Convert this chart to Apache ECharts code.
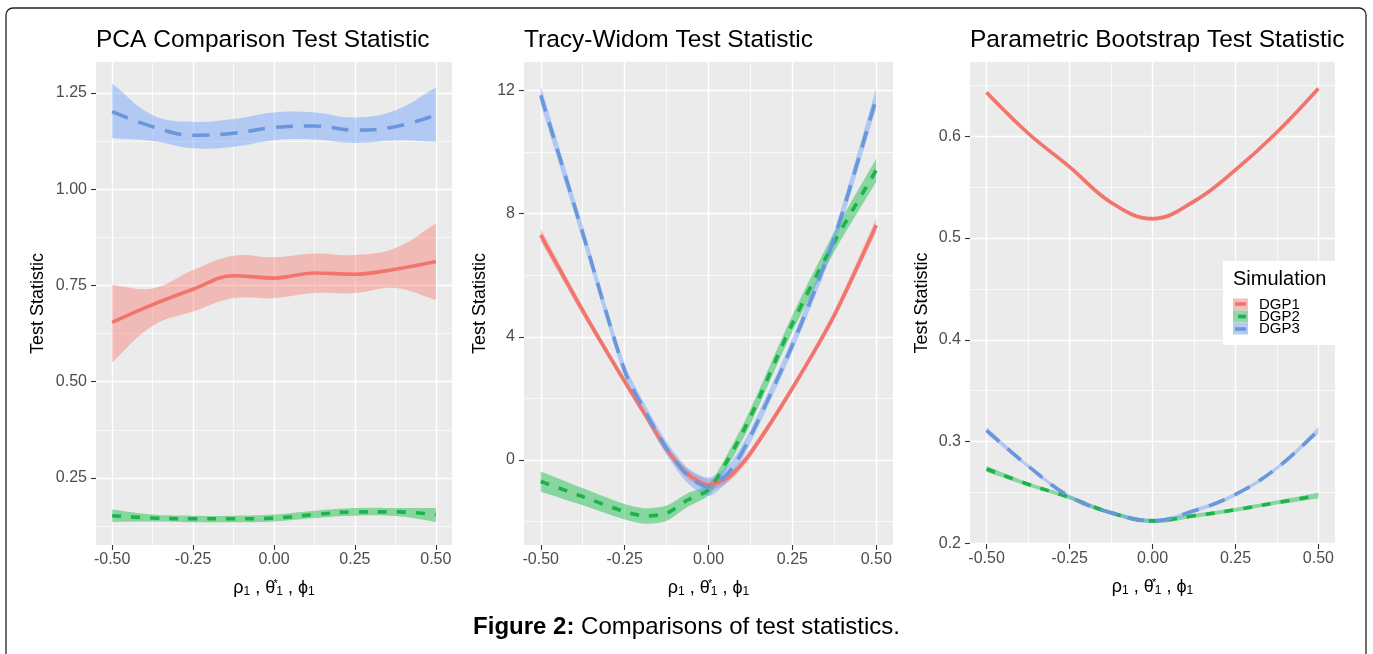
<!DOCTYPE html>
<html>
<head>
<meta charset="utf-8">
<style>
html, body { margin: 0; padding: 0; background: #fff; }
#main { width: 1373px; height: 654px; }
</style>
<script src="https://cdn.jsdelivr.net/npm/echarts@6/dist/echarts.min.js"></script>
</head>
<body>
<div id="main"></div>
<script>
// x grid of the smoothed curves
var xs = [-0.5, -0.375, -0.25, -0.125, 0, 0.125, 0.25, 0.375, 0.5];
var xsTw = [-0.5, -0.375, -0.25, -0.1875, -0.125, -0.0625, 0, 0.0625, 0.125, 0.25, 0.375, 0.5];

// PCA comparison test statistic
var pcaD1   = [0.654, 0.700, 0.740, 0.775, 0.769, 0.782, 0.779, 0.792, 0.812];
var pcaD1Lo = [0.550, 0.645, 0.682, 0.717, 0.717, 0.730, 0.730, 0.743, 0.712];
var pcaD1Hi = [0.751, 0.742, 0.790, 0.827, 0.823, 0.833, 0.829, 0.847, 0.911];
var pcaD2   = [0.152, 0.146, 0.144, 0.144, 0.146, 0.155, 0.162, 0.162, 0.155];
var pcaD2Lo = [0.136, 0.137, 0.135, 0.135, 0.137, 0.146, 0.152, 0.151, 0.136];
var pcaD2Hi = [0.168, 0.155, 0.152, 0.152, 0.155, 0.165, 0.172, 0.172, 0.172];
var pcaD3   = [1.201, 1.162, 1.140, 1.145, 1.160, 1.164, 1.153, 1.162, 1.192];
var pcaD3Lo = [1.132, 1.125, 1.106, 1.110, 1.127, 1.129, 1.120, 1.127, 1.123];
var pcaD3Hi = [1.274, 1.192, 1.175, 1.182, 1.199, 1.199, 1.186, 1.205, 1.264];

// Tracy-Widom test statistic
var twD1   = [7.30, 4.85, 2.55, 1.45, 0.35, -0.45, -0.81, -0.54, 0.22, 2.33, 4.70, 7.62];
var twD1Lo = [7.10, 4.70, 2.43, 1.33, 0.22, -0.60, -0.99, -0.69, 0.09, 2.21, 4.55, 7.40];
var twD1Hi = [7.50, 5.00, 2.67, 1.57, 0.48, -0.30, -0.63, -0.39, 0.35, 2.45, 4.85, 7.84];
var twD2   = [-0.70, -1.19, -1.68, -1.82, -1.73, -1.30, -0.97, 0.10, 1.40, 4.43, 7.08, 9.41];
var twD2Lo = [-1.03, -1.47, -1.93, -2.07, -1.98, -1.52, -1.15, -0.12, 1.15, 4.16, 6.76, 9.03];
var twD2Hi = [-0.37, -0.91, -1.43, -1.57, -1.48, -1.08, -0.79, 0.32, 1.65, 4.70, 7.40, 9.79];
var twD3   = [11.84, 7.37, 2.90, 1.55, 0.38, -0.50, -0.87, -0.38, 0.76, 3.73, 7.20, 11.75];
var twD3Lo = [11.54, 7.12, 2.68, 1.33, 0.16, -0.75, -1.17, -0.63, 0.54, 3.51, 6.95, 11.43];
var twD3Hi = [12.14, 7.62, 3.12, 1.77, 0.60, -0.25, -0.57, -0.13, 0.98, 3.95, 7.45, 12.07];

// Parametric bootstrap test statistic
var pbD1   = [0.643, 0.603, 0.570, 0.535, 0.519, 0.536, 0.567, 0.604, 0.647];
var pbD1Lo = [0.641, 0.601, 0.568, 0.533, 0.517, 0.534, 0.565, 0.602, 0.645];
var pbD1Hi = [0.645, 0.605, 0.572, 0.537, 0.521, 0.538, 0.569, 0.606, 0.649];
var pbD2   = [0.273, 0.258, 0.245, 0.230, 0.222, 0.227, 0.233, 0.240, 0.247];
var pbD2Lo = [0.270, 0.256, 0.243, 0.228, 0.220, 0.225, 0.231, 0.238, 0.244];
var pbD2Hi = [0.276, 0.260, 0.247, 0.232, 0.224, 0.229, 0.235, 0.242, 0.250];
var pbD3   = [0.311, 0.276, 0.246, 0.230, 0.222, 0.232, 0.248, 0.274, 0.311];
var pbD3Lo = [0.308, 0.274, 0.244, 0.228, 0.220, 0.230, 0.246, 0.272, 0.308];
var pbD3Hi = [0.314, 0.278, 0.248, 0.232, 0.224, 0.234, 0.250, 0.276, 0.314];

// ticks
var xMajor = [-0.5, -0.25, 0, 0.25, 0.5];
var xMinor = [-0.375, -0.125, 0.125, 0.375];
var pcaMajor = [0.25, 0.5, 0.75, 1.0, 1.25];
var pcaMinor = [0.125, 0.375, 0.625, 0.875, 1.125];
var twMajor = [0, 4, 8, 12];
var twMinor = [-2, 2, 6, 10];
var pbMajor = [0.2, 0.3, 0.4, 0.5, 0.6];
var pbMinor = [0.25, 0.35, 0.45, 0.55, 0.65];

var titles = ['PCA Comparison Test Statistic', 'Tracy-Widom Test Statistic', 'Parametric Bootstrap Test Statistic'];
var groups = ['DGP1', 'DGP2', 'DGP3'];

var font = "'Liberation Sans', Arial, Helvetica, sans-serif";
var lineCol = ['#F2756D', '#1DB24A', '#6A97DB'];
var fillCol = ['rgba(248,118,109,0.42)', 'rgba(0,186,56,0.42)', 'rgba(97,156,255,0.42)'];
var keyCol = ['#F5BFBB', '#95D6A6', '#B3CBF1'];
var dashes = ['solid', [9, 10], [17, 11]];

var myChart = echarts.init(document.getElementById('main'));

function pairs(xv, yv) {
    return xv.map(function (x, i) { return [x, yv[i]]; });
}

// same kind of smoothing as the line series, for the ribbon edges
function smoothTo(pts, s, start) {
    var n = pts.length, d = start ? 'M' : 'L';
    d += pts[0][0] + ',' + pts[0][1];
    function cp(i) {
        var p = pts[i], a = pts[Math.max(i - 1, 0)], b = pts[Math.min(i + 1, n - 1)];
        var vx = b[0] - a[0], vy = b[1] - a[1];
        var l0 = Math.hypot(p[0] - a[0], p[1] - a[1]), l1 = Math.hypot(b[0] - p[0], b[1] - p[1]);
        var r = (l0 + l1) ? l1 / (l0 + l1) : 0.5;
        return [[p[0] - vx * s * (1 - r), p[1] - vy * s * (1 - r)], [p[0] + vx * s * r, p[1] + vy * s * r]];
    }
    for (var i = 0; i < n - 1; i++) {
        var c1 = cp(i)[1], c2 = cp(i + 1)[0], q = pts[i + 1];
        d += 'C' + c1[0] + ',' + c1[1] + ' ' + c2[0] + ',' + c2[1] + ' ' + q[0] + ',' + q[1];
    }
    return d;
}

function ribbon(gi, k, xv, lo, hi, smooth) {
    var n = xv.length;
    return {
        type: 'custom', name: groups[k] + ' band', xAxisIndex: gi * 2, yAxisIndex: gi * 2,
        silent: true, z: 2,
        data: xv.map(function (x, i) { return [x, lo[i], hi[i]]; }),
        encode: { x: 0, y: [1, 2] },
        renderItem: function (params, api) {
            if (params.dataIndex !== 0) return;
            var up = [], dn = [];
            for (var i = 0; i < n; i++) {
                up.push(api.coord([api.value(0, i), api.value(2, i)]));
                dn.push(api.coord([api.value(0, n - 1 - i), api.value(1, n - 1 - i)]));
            }
            return {
                type: 'path',
                shape: { pathData: smoothTo(up, smooth, true) + smoothTo(dn, smooth, false) + 'Z' },
                style: { fill: fillCol[k] }
            };
        }
    };
}

function curve(gi, k, xv, mid, smooth) {
    return {
        type: 'line', name: groups[k], xAxisIndex: gi * 2, yAxisIndex: gi * 2,
        symbol: 'none', smooth: smooth, silent: true, z: 3,
        data: pairs(xv, mid),
        lineStyle: { color: lineCol[k], width: 3.6, type: dashes[k], cap: 'butt' },
        itemStyle: { color: lineCol[k] }
    };
}

var fmt2 = function (v) { return v.toFixed(2); };
var fmt0 = function (v) { return v.toFixed(0); };
var fmt1 = function (v) { return v.toFixed(1); };

function xAxes(gi) {
    return [{
        type: 'value', gridIndex: gi, min: -0.55, max: 0.55, position: 'bottom',
        axisLine: { show: false, onZero: false },
        axisTick: { show: true, length: 5, lineStyle: { color: '#333', width: 1.1 }, customValues: xMajor },
        axisLabel: { customValues: xMajor, formatter: fmt2, color: '#4D4D4D', fontSize: 16, margin: 7, fontFamily: font },
        splitLine: { show: true, lineStyle: { color: '#fff', width: 1.4 } },
        name: 'ρ{s|1} , θ{u|*}{s|1} , ϕ{s|1}',
        nameLocation: 'middle', nameGap: 33,
        nameTextStyle: {
            fontSize: 18, color: '#000', fontFamily: font,
            rich: {
                s: { fontSize: 12, padding: [8, 0, 0, 0], color: '#000', fontFamily: font },
                u: { fontSize: 11, padding: [0, 0, 9, 0], width: 1, color: '#000', fontFamily: font }
            }
        }
    }, {
        type: 'value', gridIndex: gi, min: -0.55, max: 0.55, position: 'top',
        axisLine: { show: false, onZero: false },
        axisTick: { show: false, customValues: xMinor },
        axisLabel: { show: false, customValues: xMinor },
        splitLine: { show: true, lineStyle: { color: '#fff', width: 0.7 } }
    }];
}

function yAxes(gi, min, max, major, minor, fmt, gap) {
    return [{
        type: 'value', gridIndex: gi, min: min, max: max, position: 'left',
        axisLine: { show: false, onZero: false },
        axisTick: { show: true, length: 5, lineStyle: { color: '#333', width: 1.1 }, customValues: major },
        axisLabel: { customValues: major, formatter: fmt, color: '#4D4D4D', fontSize: 16, margin: 9, fontFamily: font },
        splitLine: { show: true, lineStyle: { color: '#fff', width: 1.4 } },
        name: 'Test Statistic', nameLocation: 'middle', nameGap: gap,
        nameTextStyle: { fontSize: 18, color: '#000', fontFamily: font }
    }, {
        type: 'value', gridIndex: gi, min: min, max: max, position: 'right',
        axisLine: { show: false, onZero: false },
        axisTick: { show: false, customValues: minor },
        axisLabel: { show: false, customValues: minor },
        splitLine: { show: true, lineStyle: { color: '#fff', width: 0.7 } }
    }];
}

var gridBase = { show: true, backgroundColor: '#EBEBEB', borderWidth: 0, containLabel: false, outerBoundsMode: 'none' };

var series = [
    ribbon(0, 0, xs, pcaD1Lo, pcaD1Hi, 0.4),
    ribbon(0, 1, xs, pcaD2Lo, pcaD2Hi, 0.4),
    ribbon(0, 2, xs, pcaD3Lo, pcaD3Hi, 0.4),
    ribbon(1, 0, xsTw, twD1Lo, twD1Hi, 0.25),
    ribbon(1, 1, xsTw, twD2Lo, twD2Hi, 0.25),
    ribbon(1, 2, xsTw, twD3Lo, twD3Hi, 0.25),
    ribbon(2, 0, xs, pbD1Lo, pbD1Hi, 0.4),
    ribbon(2, 1, xs, pbD2Lo, pbD2Hi, 0.4),
    ribbon(2, 2, xs, pbD3Lo, pbD3Hi, 0.4),
    curve(0, 0, xs, pcaD1, 0.4),
    curve(0, 1, xs, pcaD2, 0.4),
    curve(0, 2, xs, pcaD3, 0.4),
    curve(1, 0, xsTw, twD1, 0.25),
    curve(1, 1, xsTw, twD2, 0.25),
    curve(1, 2, xsTw, twD3, 0.25),
    curve(2, 0, xs, pbD1, 0.4),
    curve(2, 1, xs, pbD2, 0.4),
    curve(2, 2, xs, pbD3, 0.4)
];

var titleStyle = { fontSize: 24.5, fontWeight: 'normal', color: '#000', fontFamily: font };

option = {
    animation: false,
    backgroundColor: '#fff',
    title: [
        { text: titles[0], left: 96, top: 28, padding: 0, textStyle: titleStyle },
        { text: titles[1], left: 524, top: 28, padding: 0, textStyle: titleStyle },
        { text: titles[2], left: 970, top: 28, padding: 0, textStyle: titleStyle },
        {
            text: '{b|Figure 2:} Comparisons of test statistics.',
            left: 'center', top: 615, padding: 0,
            textStyle: {
                fontSize: 24, fontWeight: 'normal', color: '#000', fontFamily: font,
                rich: { b: { fontSize: 24, fontWeight: 'bold', color: '#000', fontFamily: font } }
            }
        }
    ],
    grid: [
        Object.assign({ left: 96, right: 921, top: 62, bottom: 109 }, gridBase),
        Object.assign({ left: 524, right: 480, top: 62, bottom: 109 }, gridBase),
        Object.assign({ left: 970, right: 38, top: 62, bottom: 110 }, gridBase)
    ],
    xAxis: [].concat(xAxes(0), xAxes(1), xAxes(2)),
    yAxis: [].concat(
        yAxes(0, 0.076, 1.33, pcaMajor, pcaMinor, fmt2, 49),
        yAxes(1, -2.76, 12.92, twMajor, twMinor, fmt0, 35),
        yAxes(2, 0.1993, 0.673, pbMajor, pbMinor, fmt1, 39)
    ),
    legend: {
        data: groups.map(function (g, k) {
            return { name: g, icon: 'rect', itemStyle: { color: keyCol[k], borderWidth: 0 } };
        }),
        orient: 'vertical', left: 1233, top: 297, padding: 0,
        itemWidth: 15, itemHeight: 12, itemGap: -3, selectedMode: false, z: 20,
        textStyle: { fontSize: 15, color: '#000', fontFamily: font, padding: [0, 0, 0, 6] }
    },
    graphic: [
        {
            type: 'rect', silent: true, z: -10,
            shape: { x: 6, y: 8, width: 1360, height: 720, r: 7 },
            style: { fill: 'none', stroke: '#222', lineWidth: 1.3 }
        },
        {
            type: 'rect', silent: true, z: 10,
            shape: { x: 1223, y: 261, width: 112, height: 84 },
            style: { fill: '#fff' }
        },
        {
            type: 'text', silent: true, z: 20, x: 1233, y: 279,
            style: { text: 'Simulation', fontSize: 20, fontFamily: font, fill: '#000', verticalAlign: 'middle' }
        },
        {
            type: 'line', silent: true, z: 30,
            shape: { x1: 1235, y1: 304, x2: 1246, y2: 304 },
            style: { stroke: lineCol[0], lineWidth: 3.6 }
        },
        {
            type: 'line', silent: true, z: 30,
            shape: { x1: 1238, y1: 316.5, x2: 1246, y2: 316.5 },
            style: { stroke: lineCol[1], lineWidth: 3.6 }
        },
        {
            type: 'line', silent: true, z: 30,
            shape: { x1: 1235, y1: 329, x2: 1246, y2: 329 },
            style: { stroke: lineCol[2], lineWidth: 3.6 }
        }
    ],
    series: series
};

myChart.setOption(option);
</script>
</body>
</html>
